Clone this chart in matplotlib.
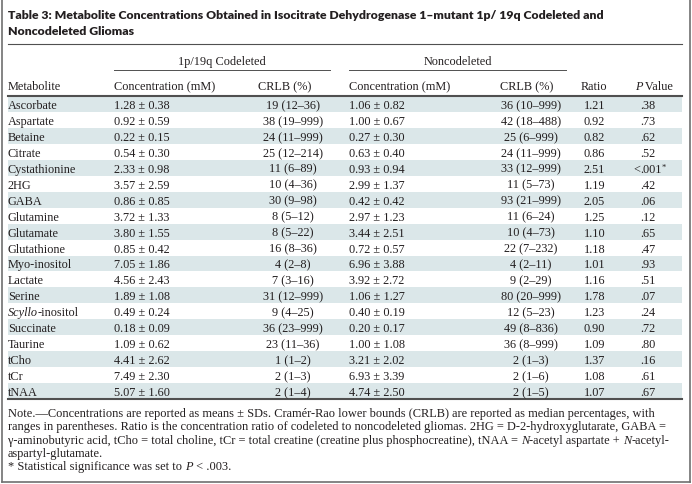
import re

import matplotlib
matplotlib.use("Agg")
import matplotlib.pyplot as plt
from matplotlib.patches import Rectangle

# ---- table content -------------------------------------------------------
title_lines = [
    "Table 3: Metabolite Concentrations Obtained in Isocitrate Dehydrogenase 1\u2013mutant 1p/ 19q Codeleted and",
    "Noncodeleted Gliomas",
]
group_labels = ["1p/19q Codeleted", "Noncodeleted"]
col_labels = ["Metabolite", "Concentration (mM)", "CRLB (%)", "Concentration (mM)",
              "CRLB (%)", "Ratio", "<i>P</i> Value"]

metabolites = ["Ascorbate", "Aspartate", "Betaine", "Citrate", "Cystathionine", "2HG", "GABA",
               "Glutamine", "Glutamate", "Glutathione", "Myo-inositol", "Lactate", "Serine",
               "<i>Scyllo</i>-inositol", "Succinate", "Taurine", "tCho", "tCr", "tNAA"]
conc_cod = ["1.28 \u00b1 0.38", "0.92 \u00b1 0.59", "0.22 \u00b1 0.15", "0.54 \u00b1 0.30",
            "2.33 \u00b1 0.98", "3.57 \u00b1 2.59", "0.86 \u00b1 0.85", "3.72 \u00b1 1.33",
            "3.80 \u00b1 1.55", "0.85 \u00b1 0.42", "7.05 \u00b1 1.86", "4.56 \u00b1 2.43",
            "1.89 \u00b1 1.08", "0.49 \u00b1 0.24", "0.18 \u00b1 0.09", "1.09 \u00b1 0.62",
            "4.41 \u00b1 2.62", "7.49 \u00b1 2.30", "5.07 \u00b1 1.60"]
crlb_cod = ["19 (12\u201336)", "38 (19\u2013999)", "24 (11\u2013999)", "25 (12\u2013214)",
            "11 (6\u201389)", "10 (4\u201336)", "30 (9\u201398)", "8 (5\u201312)", "8 (5\u201322)",
            "16 (8\u201336)", "4 (2\u20138)", "7 (3\u201316)", "31 (12\u2013999)", "9 (4\u201325)",
            "36 (23\u2013999)", "23 (11\u201336)", "1 (1\u20132)", "2 (1\u20133)", "2 (1\u20134)"]
conc_non = ["1.06 \u00b1 0.82", "1.00 \u00b1 0.67", "0.27 \u00b1 0.30", "0.63 \u00b1 0.40",
            "0.93 \u00b1 0.94", "2.99 \u00b1 1.37", "0.42 \u00b1 0.42", "2.97 \u00b1 1.23",
            "3.44 \u00b1 2.51", "0.72 \u00b1 0.57", "6.96 \u00b1 3.88", "3.92 \u00b1 2.72",
            "1.06 \u00b1 1.27", "0.40 \u00b1 0.19", "0.20 \u00b1 0.17", "1.00 \u00b1 1.08",
            "3.21 \u00b1 2.02", "6.93 \u00b1 3.39", "4.74 \u00b1 2.50"]
crlb_non = ["36 (10\u2013999)", "42 (18\u2013488)", "25 (6\u2013999)", "24 (11\u2013999)",
            "33 (12\u2013999)", "11 (5\u201373)", "93 (21\u2013999)", "11 (6\u201324)",
            "10 (4\u201373)", "22 (7\u2013232)", "4 (2\u201311)", "9 (2\u201329)",
            "80 (20\u2013999)", "12 (5\u201323)", "49 (8\u2013836)", "36 (8\u2013999)",
            "2 (1\u20133)", "2 (1\u20136)", "2 (1\u20135)"]
ratio = ["1.21", "0.92", "0.82", "0.86", "2.51", "1.19", "2.05", "1.25", "1.10", "1.18",
         "1.01", "1.16", "1.78", "1.23", "0.90", "1.09", "1.37", "1.08", "1.07"]
p_values = [".38", ".73", ".62", ".52", "<.001*", ".42", ".06", ".12", ".65", ".47", ".93",
            ".51", ".07", ".24", ".72", ".80", ".16", ".61", ".67"]

note_lines = [
    "Note.\u2014Concentrations are reported as means \u00b1 SDs. Cram\u00e9r-Rao lower bounds (CRLB) are reported as median percentages, with",
    "ranges in parentheses. Ratio is the concentration ratio of codeleted to noncodeleted gliomas. 2HG = D-2-hydroxyglutarate, GABA =",
    "\u03b3-aminobutyric acid, tCho = total choline, tCr = total creatine (creatine plus phosphocreatine), tNAA = <i>N</i>-acetyl aspartate + <i>N</i>-acetyl-",
    "aspartyl-glutamate.",
]
footnote = "* Statistical significance was set to <i>P</i> < .003."

# ---- style -----------------------------------------------------------------
W, H = 692, 485
SERIF = "Liberation Serif"
TITLE_FONT = "Lato"
INK = "#231f20"
SHADE = "#dbe7e9"
RULE = "#505050"
BORDER = "#707070"

fig = plt.figure(figsize=(W / 100, H / 100), dpi=100)
ax = fig.add_axes([0, 0, 1, 1])
ax.set_xlim(0, W)
ax.set_ylim(H, 0)
ax.axis("off")
renderer = fig.canvas.get_renderer()


def width_of(s, **kw):
    # measure with a bar so trailing spaces count
    t = ax.text(0, 0, s + "|", **kw)
    w = t.get_window_extent(renderer).width
    t.remove()
    b = ax.text(0, 0, "|", **kw)
    w -= b.get_window_extent(renderer).width
    b.remove()
    return w


def runs(s):
    parts = re.split(r"(<i>.*?</i>)", s)
    out = []
    for p in parts:
        if not p:
            continue
        if p.startswith("<i>"):
            out.append((p[3:-4], "italic"))
        else:
            out.append((p, "normal"))
    return out


def plain(s):
    return "".join(t for t, _ in runs(s))


def draw(x, y, s, size, family=SERIF, ha="left", weight="normal", color=INK):
    pieces = runs(s)
    total = sum(width_of(t, fontsize=size, family=family, style=st, weight=weight) for t, st in pieces)
    if ha == "center":
        x -= total / 2
    elif ha == "right":
        x -= total
    for t, st in pieces:
        ax.text(x, y, t, fontsize=size, family=family, style=st, weight=weight,
                color=color, va="baseline", ha="left")
        x += width_of(t, fontsize=size, family=family, style=st, weight=weight)


def fit_size(s, target, **kw):
    return 10 * target / width_of(plain(s), fontsize=10, **kw)


body = fit_size("Concentration (mM)", 101, family=SERIF)
note_size = fit_size(note_lines[2], 660, family=SERIF)
title_size = fit_size(title_lines[0], 601, family=TITLE_FONT, weight="heavy")

# ---- frame ------------------------------------------------------------------
L, R = 8, 682
ax.plot([2, 2], [0, 483], color=BORDER, lw=1.2)
ax.plot([690, 690], [0, 483], color=BORDER, lw=1.2)
ax.plot([2, 690], [483, 483], color=BORDER, lw=1.2)

# title
for i, line in enumerate(title_lines):
    draw(L, 19 + i * 16, line, title_size, family=TITLE_FONT, weight="heavy")

ax.plot([L, R], [45, 45], color=RULE, lw=0.8)

# group headers with underlines
groups = [(114, 330), (349, 566)]
for (x0, x1), lab in zip(groups, group_labels):
    draw((x0 + x1) / 2, 65, lab, body, ha="center")
    ax.plot([x0, x1], [71, 71], color=RULE, lw=0.7)

# column headers
col_x = [L, 114, 258, 349, 500, 581, 635]
for x, lab in zip(col_x, col_labels):
    draw(x, 90, lab, body)

top, row_h = 97, 15.95
n = len(metabolites)
for i in range(n):
    y0 = top + i * row_h
    if i % 2 == 0:
        ax.add_patch(Rectangle((L, y0), R - L, row_h, facecolor=SHADE, edgecolor="none", zorder=0))
    yb = y0 + row_h / 2 + 4
    draw(L, yb, metabolites[i], body)
    draw(114, yb, conc_cod[i], body)
    draw(293, yb, crlb_cod[i], body, ha="center")
    draw(349, yb, conc_non[i], body)
    draw(531, yb, crlb_non[i], body, ha="center")
    draw(584, yb, ratio[i], body)
    p = p_values[i]
    star = p.endswith("*")
    p = p.rstrip("*")
    if p.startswith("<"):
        draw(640, yb, "<", body, ha="right")
        p = p[1:]
    draw(640, yb, p, body)
    if star:
        ax.text(640 + width_of(p, fontsize=body, family=SERIF), yb - 3, "*",
                fontsize=body * 0.7, family=SERIF, color=INK, va="baseline")

ax.plot([L, R], [top, top], color=RULE, lw=1.5)
ax.plot([L, R], [top + n * row_h, top + n * row_h], color=RULE, lw=1.5)

# notes
for i, line in enumerate(note_lines):
    draw(L, 417 + i * 13.3, line, note_size)
draw(L, 470, footnote, note_size)

fig.savefig("out.png", dpi=100)
